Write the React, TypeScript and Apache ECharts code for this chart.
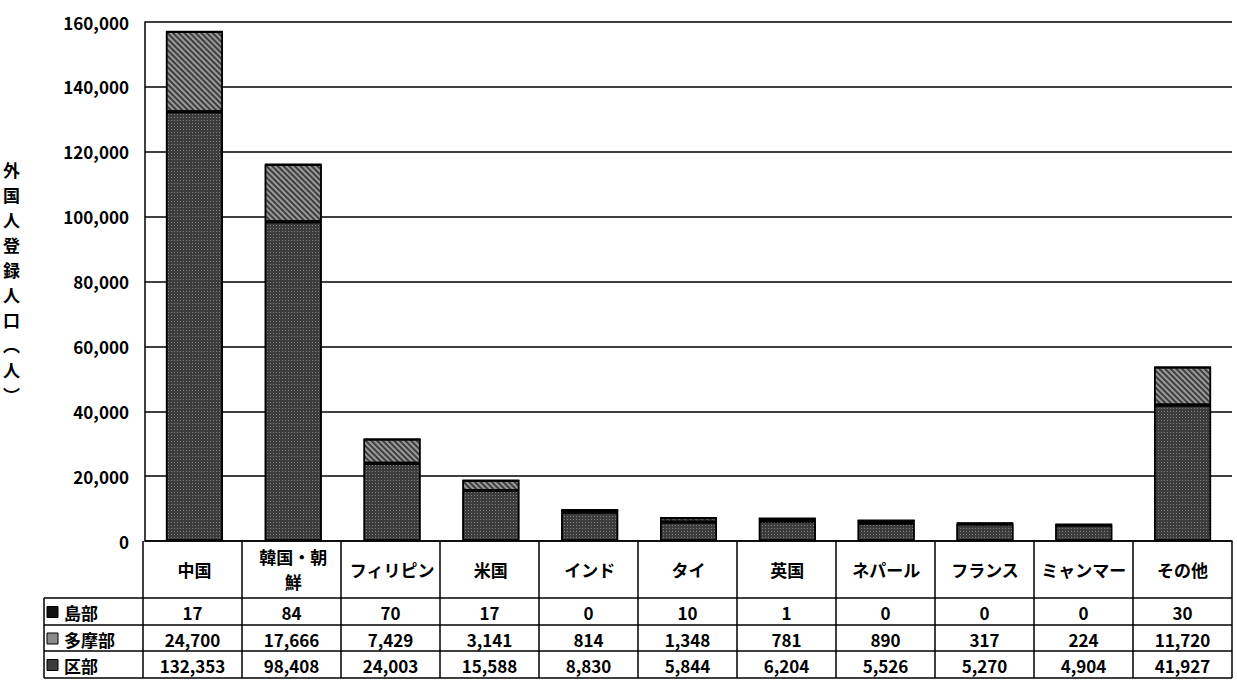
import React, { useEffect, useRef } from "react";
import * as echarts from "echarts";

const categories = ["中国", "韓国・朝鮮", "フィリピン", "米国", "インド", "タイ", "英国", "ネパール", "フランス", "ミャンマー", "その他"];
const islands = [17, 84, 70, 17, 0, 10, 1, 0, 0, 0, 30];
const tama = [24700, 17666, 7429, 3141, 814, 1348, 781, 890, 317, 224, 11720];
const wards = [132353, 98408, 24003, 15588, 8830, 5844, 6204, 5526, 5270, 4904, 41927];
const seriesNames = ["島部", "多摩部", "区部"];
const yMin = 0;
const yMax = 160000;
const yInterval = 20000;
const yTitle = "外国人登録人口︵人︶";
const labelBreaks: Record<string, string> = { "韓国・朝鮮": "韓国・朝\n鮮" };

const W = 1237;
const H = 690;
const GL = 143;
const GR = 1232;
const GT = 22;
const GB = 541;
const TABLE_LEFT = 44;
const HEADER_BOTTOM = 598;
const ROW_LINES = [598, 625, 651, 678];
const FONT = '"Noto Sans CJK JP", "Noto Sans", sans-serif';

const fmt = (v: number) => v.toLocaleString("en-US");

export default function App() {
  const ref = useRef<HTMLDivElement>(null);
  useEffect(() => {
    if (!ref.current) return;
    const chart = echarts.init(ref.current, null, { renderer: "svg", width: W, height: H });
    const n = categories.length;
    const cw = (GR - GL) / n;
    const graphics: any[] = [];
    const line = (x1: number, y1: number, x2: number, y2: number) => ({
      type: "line",
      shape: { x1, y1, x2, y2 },
      style: { stroke: "#000", lineWidth: 1.5 },
      silent: true,
    });
    for (let i = 0; i <= n; i++) {
      const x = GL + i * cw;
      graphics.push(line(x, GB, x, ROW_LINES[ROW_LINES.length - 1]));
    }
    ROW_LINES.forEach((y) => graphics.push(line(TABLE_LEFT, y, GR, y)));
    graphics.push(line(TABLE_LEFT, HEADER_BOTTOM, TABLE_LEFT, ROW_LINES[ROW_LINES.length - 1]));
    const rows = [islands, tama, wards];
    const iconFill = ["#111", "#8a8a8a", "#3c3c3c"];
    rows.forEach((vals, r) => {
      const yc = (ROW_LINES[r] + ROW_LINES[r + 1]) / 2 + 1;
      graphics.push({
        type: "rect",
        shape: { x: 47, y: yc - 6, width: 11, height: 11 },
        style: { fill: iconFill[r], stroke: "#000", lineWidth: 1 },
        silent: true,
      });
      graphics.push({
        type: "text",
        x: 64,
        y: yc,
        style: {
          text: seriesNames[r],
          font: `bold 17px ${FONT}`,
          fill: "#000",
          textAlign: "left",
          textVerticalAlign: "middle",
        },
        silent: true,
      });
      vals.forEach((v, i) => {
        graphics.push({
          type: "text",
          x: GL + (i + 0.5) * cw,
          y: yc,
          style: {
            text: fmt(v),
            font: `bold 17px ${FONT}`,
            fill: "#000",
            textAlign: "center",
            textVerticalAlign: "middle",
          },
          silent: true,
        });
      });
    });

    const barBase = { borderColor: "#000", borderWidth: 1.5 };
    chart.setOption({
      animation: false,
      backgroundColor: "#fff",
      grid: { left: GL, right: W - GR, top: GT, bottom: H - GB, containLabel: false },
      xAxis: {
        type: "category",
        data: categories,
        axisLine: { show: true, lineStyle: { color: "#000", width: 1.5 } },
        axisTick: { show: false },
        axisLabel: {
          interval: 0,
          margin: 28,
          verticalAlign: "middle",
          color: "#000",
          fontSize: 17,
          fontWeight: "bold",
          fontFamily: FONT,
          lineHeight: 25,
          formatter: (v: string) => labelBreaks[v] ?? v,
        },
      },
      yAxis: {
        type: "value",
        min: yMin,
        max: yMax,
        interval: yInterval,
        name: yTitle.split("").join("\n"),
        nameLocation: "middle",
        nameGap: 125,
        nameRotate: 0,
        nameTextStyle: { color: "#000", fontSize: 17, fontWeight: "bold", fontFamily: FONT, lineHeight: 25 },
        axisLine: { show: true, lineStyle: { color: "#000", width: 1.5 } },
        axisTick: { show: false },
        axisLabel: {
          margin: 16,
          color: "#000",
          fontSize: 17,
          fontWeight: "bold",
          fontFamily: FONT,
          formatter: (v: number) => fmt(v),
        },
        splitLine: { show: true, lineStyle: { color: "#000", width: 1.5 } },
      },
      series: [
        {
          name: seriesNames[2],
          type: "bar",
          stack: "total",
          barWidth: 57,
          data: wards,
          itemStyle: {
            ...barBase,
            color: "#3c3c3c",
            decal: {
              symbol: "rect",
              symbolSize: 1,
              dashArrayX: [1, 2],
              dashArrayY: [1, 2],
              color: "rgba(255,255,255,0.35)",
            },
          },
        },
        {
          name: seriesNames[1],
          type: "bar",
          stack: "total",
          barWidth: 57,
          data: tama,
          itemStyle: {
            ...barBase,
            color: "#9a9a9a",
            decal: {
              symbol: "rect",
              symbolSize: 1,
              dashArrayX: [[1, 0]],
              dashArrayY: [2, 2],
              rotation: Math.PI / 4,
              color: "rgba(30,30,30,0.75)",
            },
          },
        },
        {
          name: seriesNames[0],
          type: "bar",
          stack: "total",
          barWidth: 57,
          data: islands,
          itemStyle: { ...barBase, color: "#111" },
        },
      ],
      graphic: graphics,
    });
    return () => chart.dispose();
  }, []);
  return <div ref={ref} style={{ position: "fixed", left: 0, top: 0, width: W, height: H, background: "#fff" }} />;
}
